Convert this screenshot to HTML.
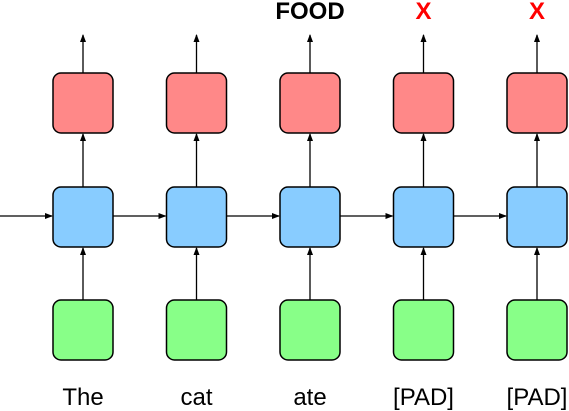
<!DOCTYPE html>
<html><head><meta charset="utf-8"><style>
html,body{margin:0;padding:0;background:#fff;}
svg{display:block;font-family:"Liberation Sans",Arial,sans-serif;}
</style></head><body>
<svg id="d" width="569" height="411" viewBox="0 0 569 411">
<defs><marker id="ah" markerWidth="8" markerHeight="8" refX="7" refY="4" orient="auto" markerUnits="userSpaceOnUse"><path d="M0,1 L8,4 L0,7 Z" fill="#000"/></marker></defs>
</svg>
<script>
const words=["The","cat","ate","[PAD]","[PAD]"];
const outputs=["","","FOOD","X","X"];
const outColors=["#000","#000","#000","#f00","#f00"];
const svg=document.getElementById('d');
const NS="http://www.w3.org/2000/svg";
function mk(t,a){const e=document.createElementNS(NS,t);for(const k in a)e.setAttribute(k,a[k]);svg.appendChild(e);return e;}
const cx=i=>83+i*113.5;
const W=60;
words.forEach((w,i)=>{
  const c=cx(i),x=c-W/2;
  let l=mk('line',{x1:c,y1:73,x2:c,y2:35,stroke:'#000','stroke-width':1.3,'marker-end':'url(#ah)'});
  
  
  l=mk('line',{x1:c,y1:187,x2:c,y2:134,stroke:'#000','stroke-width':1.3,'marker-end':'url(#ah)'});
  
  
  l=mk('line',{x1:c,y1:300,x2:c,y2:248,stroke:'#000','stroke-width':1.3,'marker-end':'url(#ah)'});
  
  
  l=mk('line',{x1:i===0?0:cx(i-1)+W/2,y1:216,x2:x-1,y2:216,stroke:'#000','stroke-width':1.3,'marker-end':'url(#ah)'});
  
  
  let r=mk('rect',{x:x,y:73,width:W,height:60,rx:8,fill:'#ff8888',stroke:'#000','stroke-width':1.5});
  
  
  r=mk('rect',{x:x,y:187,width:W,height:60,rx:8,fill:'#88ccff',stroke:'#000','stroke-width':1.5});
  
  
  r=mk('rect',{x:x,y:300,width:W,height:60,rx:8,fill:'#88ff88',stroke:'#000','stroke-width':1.5});
  
  
  let t=mk('text',{x:c,y:405,'text-anchor':'middle','font-size':24,fill:'#000'});
  t.textContent=w;
  
  
  if(outputs[i]){
    t=mk('text',{x:c,y:19,'text-anchor':'middle','font-size':24,'font-weight':'bold',fill:outColors[i]});
    t.textContent=outputs[i];
    
    
  }
});
</script>
</body></html>
